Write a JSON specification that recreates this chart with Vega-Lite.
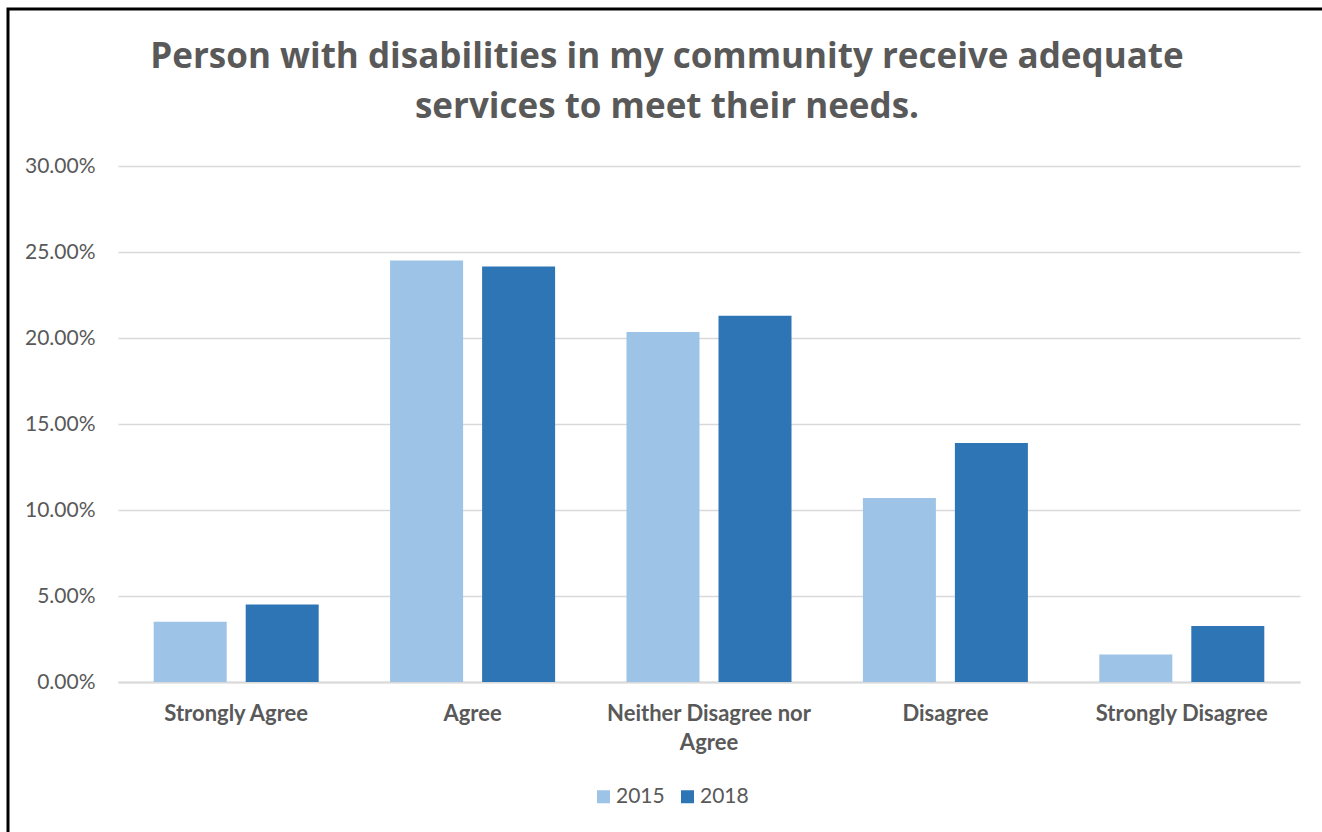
{
  "$schema": "https://vega.github.io/schema/vega-lite/v6.json",
  "autosize": {"type": "none"},
  "width": 1318,
  "height": 828,
  "padding": {"left": 8, "top": 9, "right": -4, "bottom": -5},
  "background": "white",
  "config": {
    "view": {"stroke": "black", "strokeWidth": 3},
    "font": "Lato"
  },
  "title": {
    "text": ["Person with disabilities in my community receive adequate", "services to meet their needs."],
    "font": "Open Sans",
    "fontSize": 35,
    "fontWeight": "bold",
    "color": "#595959",
    "anchor": "middle",
    "frame": "group",
    "baseline": "top",
    "offset": 0,
    "dy": 116,
    "lineHeight": 50
  },
  "data": {
    "values": [
      {"response": "Strongly Agree", "year": "2015", "value": 0.035},
      {"response": "Strongly Agree", "year": "2018", "value": 0.045},
      {"response": "Agree", "year": "2015", "value": 0.245},
      {"response": "Agree", "year": "2018", "value": 0.2415},
      {"response": "Neither Disagree nor Agree", "year": "2015", "value": 0.2035},
      {"response": "Neither Disagree nor Agree", "year": "2018", "value": 0.213},
      {"response": "Disagree", "year": "2015", "value": 0.107},
      {"response": "Disagree", "year": "2018", "value": 0.139},
      {"response": "Strongly Disagree", "year": "2015", "value": 0.016},
      {"response": "Strongly Disagree", "year": "2018", "value": 0.0325}
    ]
  },
  "mark": {"type": "bar"},
  "encoding": {
    "x": {
      "field": "response",
      "type": "nominal",
      "sort": ["Strongly Agree", "Agree", "Neither Disagree nor Agree", "Disagree", "Strongly Disagree"],
      "scale": {"range": [110, 1292], "paddingInner": 0, "paddingOuter": 0},
      "axis": {
        "title": null,
        "orient": "bottom",
        "offset": -155,
        "labelAngle": 0,
        "domainColor": "#d9d9d9",
        "domainWidth": 2,
        "ticks": false,
        "labelFont": "Lato",
        "labelFontWeight": "bold",
        "labelFontSize": 22,
        "labelColor": "#595959",
        "labelPadding": 21,
        "labelLineHeight": 29,
        "labelLimit": 400,
        "labelExpr": "datum.label == 'Neither Disagree nor Agree' ? ['Neither Disagree nor', 'Agree'] : datum.label"
      }
    },
    "xOffset": {
      "field": "year",
      "type": "nominal",
      "scale": {"paddingInner": 0.2065, "paddingOuter": 0.388}
    },
    "y": {
      "field": "value",
      "type": "quantitative",
      "scale": {"domain": [0, 0.3], "range": [673, 157]},
      "axis": {
        "title": null,
        "format": ".2%",
        "values": [0, 0.05, 0.1, 0.15, 0.2, 0.25, 0.3],
        "offset": -110,
        "domain": false,
        "ticks": false,
        "grid": true,
        "gridColor": "#d9d9d9",
        "gridWidth": 1.5,
        "labelFont": "Lato",
        "labelFontSize": 21,
        "labelColor": "#595959",
        "labelPadding": 23
      }
    },
    "color": {
      "field": "year",
      "type": "nominal",
      "scale": {"domain": ["2015", "2018"], "range": ["#9dc3e6", "#2e75b6"]},
      "legend": {
        "orient": "none",
        "legendX": 585,
        "legendY": 777,
        "direction": "horizontal",
        "title": null,
        "padding": 0,
        "symbolType": "square",
        "symbolSize": 169,
        "symbolStrokeWidth": 0,
        "labelFont": "Lato",
        "labelFontSize": 21,
        "labelColor": "#595959",
        "labelOffset": 2,
        "columnPadding": 12
      }
    }
  }
}
